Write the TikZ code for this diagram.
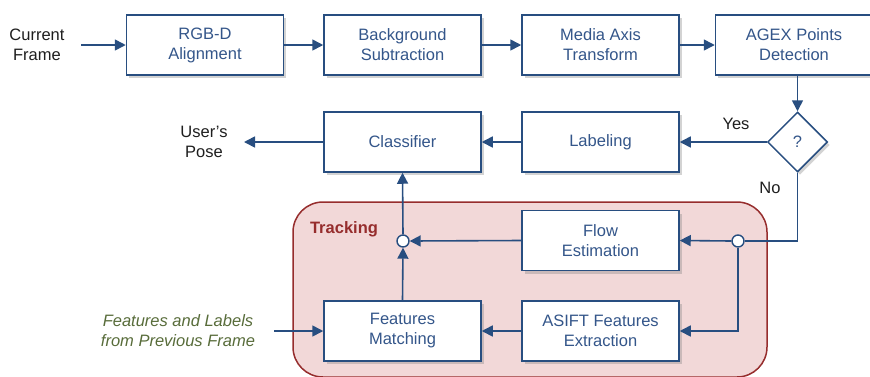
\documentclass[tikz,border=0pt]{standalone}
\usepackage{fontspec}
\setmainfont{Liberation Sans}
\usetikzlibrary{shapes.geometric,arrows.meta,shadows}
\definecolor{boxblue}{RGB}{40,78,128}
\definecolor{txtblue}{RGB}{52,86,138}
\definecolor{trkfill}{RGB}{242,216,216}
\definecolor{trkdraw}{RGB}{150,45,45}
\definecolor{olive}{RGB}{88,108,58}
\definecolor{txtdark}{RGB}{30,30,30}
\tikzset{
  stepbox/.style={draw=boxblue, line width=1.5pt, fill=white, minimum width=157pt, minimum height=60pt,
    align=center, text=txtblue, font=\fontsize{16.5}{20}\selectfont, inner sep=2pt,
    drop shadow={opacity=0.35, shadow xshift=2.5pt, shadow yshift=-3pt}},
  decis/.style={diamond, draw=boxblue, line width=1.5pt, fill=white, minimum width=60pt, minimum height=60pt,
    inner sep=0pt, text=txtblue, font=\fontsize{16.5}{20}\selectfont,
    drop shadow={opacity=0.35, shadow xshift=2.5pt, shadow yshift=-3pt}},
  junc/.style={circle, draw=boxblue, line width=1.4pt, fill=white, minimum size=12pt, inner sep=0pt},
  conn/.style={draw=boxblue, line width=1.6pt},
  arr/.style={conn, -{Triangle[length=11pt,width=11pt]}},
  plain/.style={align=center, text=txtdark, font=\fontsize{16.5}{20}\selectfont},
  lbl/.style={text=txtdark, font=\fontsize{16.5}{20}\selectfont},
}
\begin{document}
\begin{tikzpicture}[x=1pt,y=-1pt]
\useasboundingbox (0,0) rectangle (870,376);
\clip (0,0) rectangle (870,376);
% tracking region
\draw[fill=trkfill, draw=trkdraw, line width=1.5pt, rounded corners=30pt] (293,202) rectangle (767,377);
\node[text=trkdraw, font=\bfseries\fontsize{16.5}{20}\selectfont] (trk) at (344,229) {Tracking};
% boxes
\node[stepbox] (rgb) at (205,45) {RGB-D\\Alignment};
\node[stepbox] (bg) at (402.5,45) {Background\\Subtraction};
\node[stepbox] (mat) at (600.5,45) {Media Axis\\Transform};
\node[stepbox] (agex) at (794,45) {AGEX Points\\Detection};
\node[stepbox] (cls) at (402.5,142) {Classifier};
\node[stepbox] (lab) at (600.5,142) {Labeling};
\node[decis] (dia) at (797.5,142) {?};
\node[stepbox] (flow) at (600.5,240.5) {Flow\\Estimation};
\node[stepbox] (asift) at (600.5,331) {ASIFT Features\\Extraction};
\node[stepbox] (fm) at (402.5,331) {Features\\Matching};
% text nodes
\node[plain] (cf) at (37,45) {Current\\Frame};
\node[plain] (pose) at (204,142) {User's\\Pose};
\node[align=center, text=olive, font=\itshape\fontsize{16.5}{20}\selectfont] (feat) at (178,331) {Features and Labels\\from Previous Frame};
\coordinate (cfend) at (81,45);
\coordinate (poseend) at (244,142);
\coordinate (featend) at (274,331);
% junctions
\node[junc] (j1) at (403,241) {};
\node[junc] (j2) at (738,241) {};
% connectors
\draw[arr] (cfend) -- (rgb.west);
\draw[arr] (rgb.east) -- (bg.west);
\draw[arr] (bg.east) -- (mat.west);
\draw[arr] (mat.east) -- (agex.west);
\draw[arr] (agex.south -| dia.north) -- (dia.north);
\draw[arr] (dia.west) -- (lab.east);
\draw[arr] (lab.west) -- (cls.east);
\draw[arr] (cls.west) -- (poseend);
\draw[conn] (dia.south) |- (j2.east);
\draw[arr] (j2.west) -- (flow.east);
\draw[arr] (j2.south) |- (asift.east);
\draw[arr] (flow.west) -- (j1.east);
\draw[arr] (asift.west) -- (fm.east);
\draw[arr] (fm.north) -- (j1.south);
\draw[arr] (j1.north) -- (cls.south);
\draw[arr] (featend) -- (fm.west);
\node[lbl] (yes) at (736,124) {Yes};
\node[lbl] (no) at (770,188) {No};
\end{tikzpicture}
\end{document}
